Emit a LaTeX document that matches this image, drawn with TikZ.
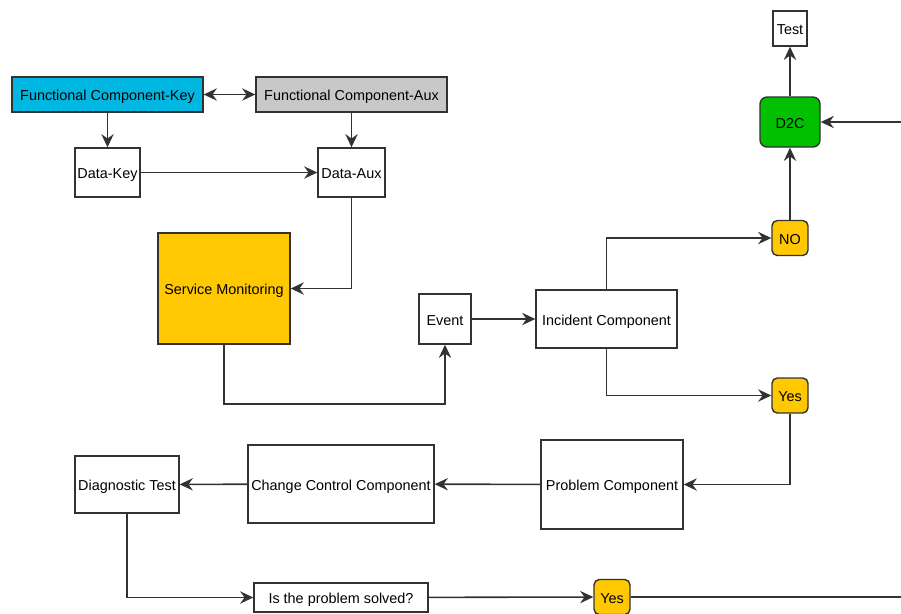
\documentclass[tikz,border=0pt]{standalone}
\usepackage{fontspec}
\setmainfont{Liberation Sans}
\usetikzlibrary{arrows.meta}
\definecolor{keyblue}{RGB}{0,183,226}
\definecolor{auxgray}{RGB}{200,200,200}
\definecolor{monorange}{RGB}{255,200,0}
\definecolor{dgreen}{RGB}{0,192,0}
\definecolor{edge}{RGB}{50,50,50}
\begin{document}
\begin{tikzpicture}[
    x=0.02cm, y=-0.02cm,
    box/.style={rectangle, draw=edge, line width=0.8pt, inner sep=1pt, text height=0.72em, text depth=0.02em, font=\fontsize{8.2}{9.8}\selectfont},
    tag/.style={box, rounded corners=3pt, fill=monorange, minimum width=0.72cm, minimum height=0.7cm},
    arr/.style={-{Stealth[length=7.5pt, width=7pt, inset=2.5pt]}, draw=edge, line width=0.9pt},
    dbl/.style={{Stealth[length=7.5pt, width=7pt, inset=2.5pt]}-{Stealth[length=7.5pt, width=7pt, inset=2.5pt]}, draw=edge, line width=0.9pt},
    wire/.style={draw=edge, line width=0.9pt}
]
    \useasboundingbox (0,0) rectangle (901,613);
    % top row
    \node[box, fill=keyblue, minimum width=3.82cm, minimum height=0.7cm] (fck) at (107.5,94.5) {Functional Component-Key};
    \node[box, fill=auxgray, minimum width=3.82cm, minimum height=0.7cm] (fca) at (351.5,94.5) {Functional Component-Aux};
    \node[box, minimum width=1.3cm, minimum height=0.98cm] (dkey) at (107.5,172.5) {Data-Key};
    \node[box, minimum width=1.34cm, minimum height=0.98cm] (daux) at (351.5,172.5) {Data-Aux};
    % middle
    \node[box, fill=monorange, minimum width=2.64cm, minimum height=2.22cm] (mon) at (224,288.5) {Service Monitoring};
    \node[box, minimum width=1.04cm, minimum height=1cm] (event) at (445,319) {Event};
    \node[box, minimum width=2.82cm, minimum height=1.16cm] (inc) at (606.5,319) {Incident Component};
    \node[tag] (no) at (790,238) {NO};
    \node[box, rounded corners=4pt, fill=dgreen, minimum width=1.2cm, minimum height=1cm] (d2c) at (790,122) {D2C};
    \node[box, minimum width=0.68cm, minimum height=0.7cm] (test) at (790,28.5) {Test};
    \node[tag] (yesa) at (790,395.5) {Yes};
    % bottom
    \node[box, minimum width=2.84cm, minimum height=1.78cm] (prob) at (612,484.5) {Problem Component};
    \node[box, minimum width=3.72cm, minimum height=1.56cm] (ccc) at (341,484) {Change Control Component};
    \node[box, minimum width=2.08cm, minimum height=1.14cm] (diag) at (127,484.5) {Diagnostic Test};
    \node[box, minimum width=3.48cm, minimum height=0.58cm] (solved) at (341,597.5) {Is the problem solved?};
    \node[tag] (yesb) at (612,597) {Yes};
    \coordinate (rin) at (901,122);
    \coordinate (rout) at (901,597);

    \draw[dbl] (fck) -- (fca);
    \draw[arr] (fck) -- (dkey);
    \draw[arr] (fca) -- (daux);
    \draw[arr] (dkey) -- (daux);
    \draw[arr] (daux.south) |- (mon.east);
    \draw[arr] (mon.south) |- (445,404) -- (event.south);
    \draw[arr] (event) -- (inc);
    \draw[arr] (inc.north) |- (no.west);
    \draw[arr] (inc.south) |- (yesa.west);
    \draw[arr] (yesa.south) |- (prob.east);
    \draw[arr] (prob) -- (ccc);
    \draw[arr] (ccc) -- (diag);
    \draw[arr] (diag.south) |- (solved.west);
    \draw[arr] (solved) -- (yesb);
    \draw[wire] (yesb) -- (rout);
    \draw[arr] (no) -- (d2c);
    \draw[arr] (d2c) -- (test);
    \draw[arr] (rin) -- (d2c);
\end{tikzpicture}
\end{document}
